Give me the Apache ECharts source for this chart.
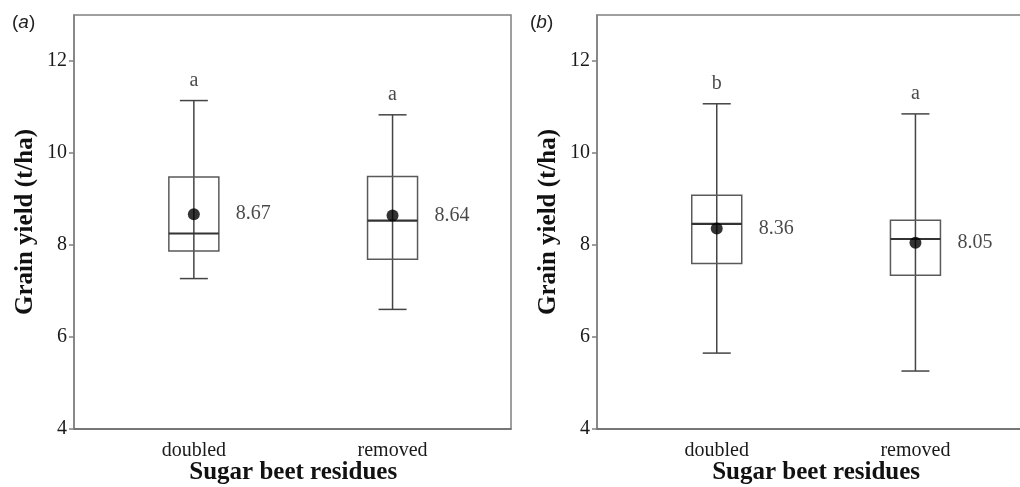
<!DOCTYPE html>
<html>
<head>
<meta charset="utf-8">
<script src="https://cdn.jsdelivr.net/npm/echarts@6/dist/echarts.min.js"></script>
<style>html,body{margin:0;padding:0;background:#fff}#c{width:1020px;height:487px}</style>
</head>
<body>
<div id="c"></div>
<script>
// ---- data ----
const categories = ['doubled', 'removed'];
const yTicks = [4, 6, 8, 10, 12];
// [min, Q1, median, Q3, max]
const boxA = [
  [7.27, 7.87, 8.25, 9.48, 11.14],
  [6.60, 7.69, 8.53, 9.49, 10.83]
];
const meansA = [8.67, 8.64];
const lettersA = ['a', 'a'];
const boxB = [
  [5.65, 7.60, 8.46, 9.08, 11.07],
  [5.26, 7.34, 8.13, 8.54, 10.85]
];
const meansB = [8.36, 8.05];
const lettersB = ['b', 'a'];
const panelLabels = ['a', 'b'];
const yName = 'Grain yield (t/ha)';
const xName = 'Sugar beet residues';

// ---- styles ----
const SERIF = "'Liberation Serif','Times New Roman',serif";
const SANS = "'Liberation Sans',Arial,sans-serif";
const FRAME = '#808080';
const TEXT = '#1a1a1a';
const Y_MIN = 4, Y_MAX = 13;

function renderBox(params, api) {
  const x = api.value(0);
  const pMin = api.coord([x, api.value(1)]);
  const pQ1 = api.coord([x, api.value(2)]);
  const pMed = api.coord([x, api.value(3)]);
  const pQ3 = api.coord([x, api.value(4)]);
  const pMax = api.coord([x, api.value(5)]);
  const bw = 50, cw = 28, cx = pMin[0];
  const ls = {stroke: '#444', lineWidth: 1.5, fill: null};
  return {
    type: 'group',
    children: [
      {type: 'line', shape: {x1: cx, y1: pMax[1], x2: cx, y2: pMin[1]}, style: ls},
      {type: 'line', shape: {x1: cx - cw / 2, y1: pMax[1], x2: cx + cw / 2, y2: pMax[1]}, style: ls},
      {type: 'line', shape: {x1: cx - cw / 2, y1: pMin[1], x2: cx + cw / 2, y2: pMin[1]}, style: ls},
      {type: 'rect', shape: {x: cx - bw / 2, y: pQ3[1], width: bw, height: pQ1[1] - pQ3[1]},
        style: {stroke: '#5a5a5a', lineWidth: 1.5, fill: 'rgba(0,0,0,0)'}},
      {type: 'line', shape: {x1: cx - bw / 2, y1: pMed[1], x2: cx + bw / 2, y2: pMed[1]},
        style: {stroke: '#333', lineWidth: 2.2}}
    ]
  };
}

const panels = [
  {frameLeft: 74, frameW: 437, dataLeft: 94.5, box: boxA, means: meansA, letters: lettersA, labelLeft: 12},
  {frameLeft: 597, frameW: 439, dataLeft: 617.4, box: boxB, means: meansB, letters: lettersB, labelLeft: 530}
];
const DATA_W = 397.4, TOP = 15, H = 414;

const grid = [], xAxis = [], yAxis = [], series = [], title = [];
panels.forEach((p, i) => {
  const fg = grid.length;
  grid.push({left: p.frameLeft, top: TOP, width: p.frameW, height: H, outerBoundsMode: 'none', containLabel: false,
    show: true, borderColor: FRAME, borderWidth: 1.5, backgroundColor: 'transparent'});
  grid.push({left: p.dataLeft, top: TOP, width: DATA_W, height: H, outerBoundsMode: 'none', containLabel: false});
  xAxis.push({gridIndex: fg, type: 'value', min: 0, max: 1,
    axisLine: {show: true, lineStyle: {color: '#6a6a6a', width: 1.5}},
    axisTick: {show: false}, axisLabel: {show: false}, splitLine: {show: false}});
  xAxis.push({gridIndex: fg + 1, type: 'category', data: categories,
    axisLine: {show: false}, axisTick: {show: false},
    axisLabel: {color: TEXT, fontFamily: SERIF, fontSize: 20, margin: 12},
    name: xName, nameLocation: 'middle', nameGap: 31, nameMoveOverlap: false,
    nameTextStyle: {color: '#111', fontFamily: SERIF, fontSize: 25, fontWeight: 'bold'}});
  yAxis.push({gridIndex: fg, type: 'value', min: Y_MIN, max: Y_MAX,
    axisLine: {show: true, lineStyle: {color: FRAME, width: 1.5}},
    axisTick: {show: true, length: 5, inside: false, customValues: yTicks, lineStyle: {color: FRAME, width: 1.5}},
    axisLabel: {customValues: yTicks, color: TEXT, fontFamily: SERIF, fontSize: 20, margin: 7},
    splitLine: {show: false},
    name: yName, nameLocation: 'middle', nameGap: 36, nameRotate: 90, nameMoveOverlap: false,
    nameTextStyle: {color: '#111', fontFamily: SERIF, fontSize: 25, fontWeight: 'bold'}});
  yAxis.push({gridIndex: fg + 1, type: 'value', min: Y_MIN, max: Y_MAX, show: false});
  const xi = fg + 1, yi = fg + 1;
  series.push({type: 'custom', xAxisIndex: xi, yAxisIndex: yi, z: 2,
    renderItem: renderBox, encode: {x: 0, y: [1, 2, 3, 4, 5]},
    data: p.box.map((b, k) => [k].concat(b)), silent: true});
  series.push({type: 'scatter', xAxisIndex: xi, yAxisIndex: yi, z: 3,
    symbol: 'circle', symbolSize: 12, itemStyle: {color: '#000'},
    data: p.means.map((m, k) => [k, m]),
    label: {show: true, position: 'right', distance: 36, color: TEXT, fontFamily: SERIF, fontSize: 20,
      formatter: (q) => q.value[1].toFixed(2)}, silent: true});
  series.push({type: 'scatter', xAxisIndex: xi, yAxisIndex: yi, z: 3,
    symbolSize: 0, data: p.box.map((b, k) => [k, b[4]]),
    label: {show: true, position: 'top', distance: 10, color: TEXT, fontFamily: SERIF, fontSize: 20,
      formatter: (q) => p.letters[q.dataIndex]}, silent: true});
  title.push({text: '({i|' + panelLabels[i] + '})', left: p.labelLeft, top: 13, padding: 0,
    textStyle: {fontFamily: SANS, fontSize: 19, fontWeight: 'normal', color: '#222',
      rich: {i: {fontStyle: 'italic', fontFamily: SANS, fontSize: 19, color: '#222'}}}});
});

const chart = echarts.init(document.getElementById('c'));
chart.setOption({animation: false, title, grid, xAxis, yAxis, series});
</script>
</body>
</html>
